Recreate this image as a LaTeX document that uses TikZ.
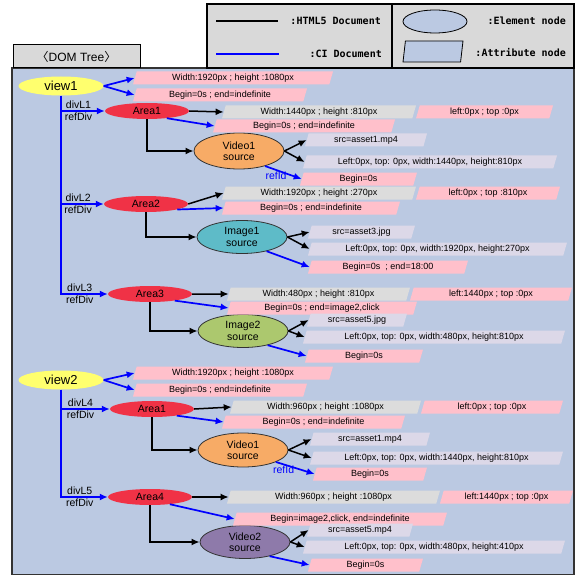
\documentclass[tikz,border=0pt]{standalone}
\usepackage{fontspec}
\setmainfont{Liberation Sans}
\newfontfamily\legendfont{DejaVu Sans Mono}
\newfontfamily\cjkfont{Noto Sans CJK KR}
\usepackage{tikz}
\usetikzlibrary{positioning,shapes.geometric,arrows.meta}

\definecolor{panelblue}{RGB}{187,201,226}
\definecolor{legendgray}{RGB}{217,217,217}
\definecolor{attrpink}{RGB}{255,192,203}
\definecolor{attrgray}{RGB}{220,220,220}
\definecolor{attrlilac}{RGB}{220,216,232}
\definecolor{viewyellow}{RGB}{255,255,110}
\definecolor{areared}{RGB}{240,50,70}
\definecolor{videoorange}{RGB}{247,171,102}
\definecolor{imageteal}{RGB}{94,187,200}
\definecolor{imagegreen}{RGB}{172,200,110}
\definecolor{videopurple}{RGB}{142,122,170}

\begin{document}
\begin{tikzpicture}[x=1pt, y=-1pt,
			view/.style={ellipse, fill=viewyellow, minimum width=85, minimum height=19, inner sep=0pt, font=\fontsize{13}{13}\selectfont},
			area/.style={ellipse, fill=areared, minimum width=84, minimum height=16, inner sep=0pt, font=\fontsize{10.5}{11}\selectfont},
			source/.style={ellipse, draw=black!80, thick, minimum width=90, minimum height=33, inner sep=0pt, align=center, font=\fontsize{10.5}{11.5}\selectfont},
			attr/.style={trapezium, trapezium left angle=66, trapezium right angle=114, trapezium stretches body, inner xsep=2pt, inner ysep=0pt, minimum height=13, font=\fontsize{9}{9}\selectfont},
			pinkattr/.style={attr, fill=attrpink},
			grayattr/.style={attr, fill=attrgray},
			lilacattr/.style={attr, fill=attrlilac},
			html/.style={-{Latex[length=8pt,width=7pt]}, line width=1.5pt, black},
			ci/.style={-{Latex[length=8pt,width=7pt]}, line width=1.7pt, blue},
			div/.style={font=\fontsize{10.5}{11}\selectfont, inner sep=1.5pt, text=black},
			refid/.style={font=\fontsize{10.5}{11}\selectfont, inner sep=1pt, text=blue},
			legend/.style={font=\legendfont\bfseries\fontsize{10}{10}\selectfont, inner sep=0pt},
		]
		\useasboundingbox (0,0) rectangle (581,575);

		\draw[fill=panelblue, draw=black!80, line width=1.2pt] (12,68) rectangle (574,575);
		\draw[fill=legendgray, line width=1.6pt] (207,4) rectangle (392,68);
		\draw[fill=legendgray, line width=1.6pt] (392,4) rectangle (574,68);
		\node[draw, fill=legendgray, line width=1pt, minimum width=127, minimum height=23, font=\fontsize{12}{12}\selectfont] (domtab) at (76.5,56.5) {{\cjkfont 〈}DOM Tree{\cjkfont 〉}};

		\draw[line width=2.5pt] (216,21) -- (278,21);
		\draw[blue, line width=2.5pt] (216,54) -- (279,54);
		\node[legend, anchor=east] (leghtml) at (381,21) {:HTML5 Document};
		\node[legend, anchor=east] (legci) at (382,54) {:CI Document};
		\node[ellipse, draw, thick, fill=panelblue, minimum width=64, minimum height=23] (legelem) at (435,21.5) {};
		\node[trapezium, trapezium left angle=70, trapezium right angle=110, trapezium stretches body, draw, thick, fill=panelblue, minimum width=60, minimum height=21] (legattr) at (433,51.5) {};
		\node[legend, anchor=east] (legelemtext) at (566,21) {:Element node};
		\node[legend, anchor=east] (legattrtext) at (566,53) {:Attribute node};

		\node[view] (view1) at (61,86) {view1};
		\node[area] (area1) at (147,111) {Area1};
		\node[area] (area2) at (146,204) {Area2};
		\node[area] (area3) at (150,294) {Area3};
		\node[source, fill=videoorange, minimum height=36] (video1) at (239,151) {Video1\\source};
		\node[source, fill=imageteal] (image1) at (242,237) {Image1\\source};
		\node[source, fill=imagegreen] (image2) at (243,331) {Image2\\source};

		\node[view] (view2) at (61,380) {view2};
		\node[area] (area1b) at (152,409) {Area1};
		\node[area] (area4) at (150,497) {Area4};
		\node[source, fill=videoorange, minimum height=34] (video1b) at (243,450) {Video1\\source};
		\node[source, fill=videopurple] (video2) at (245,542) {Video2\\source};

		\node[pinkattr, minimum width=200] (v1w) at (233,78) {Width:1920px ; height :1080px};
		\node[pinkattr, minimum width=174] (v1b) at (220,95) {Begin=0s ; end=indefinite};
		\node[grayattr, minimum width=194] (a1w) at (319,112) {Width:1440px ; height :810px};
		\node[pinkattr, minimum width=137] (a1l) at (484.5,112) {left:0px ; top :0px};
		\node[pinkattr, minimum width=182] (a1b) at (304,126) {Begin=0s ; end=indefinite};
		\node[lilacattr, minimum width=122] (v1s) at (366,140) {src=asset1.mp4};
		\node[lilacattr, minimum width=254] (v1l) at (430,162) {Left:0px, top: 0px, width:1440px, height:810px};
		\node[pinkattr, minimum width=117] (v1r) at (358.5,179) {Begin=0s};

		\node[grayattr, minimum width=194] (a2w) at (319,193) {Width:1920px ; height :270px};
		\node[pinkattr, minimum width=144] (a2l) at (488,193) {left:0px ; top :810px};
		\node[pinkattr, minimum width=178] (a2b) at (311,208) {Begin=0s ; end=indefinite};
		\node[lilacattr, minimum width=107] (i1s) at (361.5,232) {src=asset3.jpg};
		\node[lilacattr, minimum width=259] (i1l) at (437.5,249) {Left:0px, top: 0px, width:1920px, height:270px};
		\node[pinkattr, minimum width=160] (i1r) at (388,267) {Begin=0s~ ; end=18:00};

		\node[grayattr, minimum width=183] (a3w) at (318.5,294) {Width:480px ; height :810px};
		\node[pinkattr, minimum width=162] (a3l) at (491,294) {left:1440px ; top :0px};
		\node[pinkattr, minimum width=190] (a3b) at (322,308) {Begin=0s ; end=image2,click};
		\node[lilacattr, minimum width=100] (i2s) at (357,320) {src=asset5.jpg};
		\node[lilacattr, minimum width=262] (i2l) at (434,337) {Left:0px, top: 0px, width:480px, height:810px};
		\node[pinkattr, minimum width=118] (i2r) at (364,356) {Begin=0s};

		\node[pinkattr, minimum width=200] (v2w) at (233,373) {Width:1920px ; height :1080px};
		\node[pinkattr, minimum width=174] (v2b) at (220,390) {Begin=0s ; end=indefinite};
		\node[grayattr, minimum width=191] (b1w) at (325.5,407) {Width:960px ; height :1080px};
		\node[pinkattr, minimum width=142] (b1l) at (492,407) {left:0px ; top :0px};
		\node[pinkattr, minimum width=183] (b1b) at (313.5,422) {Begin=0s ; end=indefinite};
		\node[lilacattr, minimum width=120] (v3s) at (370,439) {src=asset1.mp4};
		\node[lilacattr, minimum width=253] (v3l) at (436.5,458) {Left:0px, top: 0px, width:1440px, height:810px};
		\node[pinkattr, minimum width=114] (v3r) at (370,474) {Begin=0s};

		\node[grayattr, minimum width=213] (a4w) at (333.5,497) {Width:960px ; height :1080px};
		\node[pinkattr, minimum width=133] (a4l) at (506.5,497) {left:1440px ; top :0px};
		\node[pinkattr, minimum width=214] (a4b) at (340,519) {Begin=image2,click, end=indefinite};
		\node[lilacattr, minimum width=106] (v4s) at (360,530) {src=asset5.mp4};
		\node[lilacattr, minimum width=262] (v4l) at (434,547) {Left:0px, top: 0px, width:480px, height:410px};
		\node[pinkattr, minimum width=115] (v4r) at (365.5,565) {Begin=0s};

		\draw[ci] (view1.east) -- (v1w.west);
		\draw[ci] (view1.east) -- (v1b.west);
		\draw[ci] (view1.south |- area1.west) -- (area1.west) node[pos=0.4, above, div] {divL1} node[pos=0.4, below, div] {refDiv};
		\draw[ci] (view1.south |- area2.west) -- (area2.west) node[pos=0.4, above, div] {divL2} node[pos=0.4, below, div] {refDiv};
		\draw[ci] (view1.south) |- (area3.west) node[pos=0.7, above, div] {divL3} node[pos=0.7, below, div] {refDiv};

		\draw[html] (area1.east) -- (a1w.west);
		\draw[ci] (area1.-20) -- (a1b.west);
		\draw[html] (area1.south) |- (video1.west);
		\draw[html] (video1.east) -- (v1s.west);
		\draw[html] (video1.east) -- (v1l.west);
		\draw[ci] (video1.-30) -- (v1r.west) node[pos=0.3, below, refid] {refId};

		\draw[html] (area2.east) -- (a2w.west);
		\draw[ci] (area2.-10) -- (a2b.west);
		\draw[html] (area2.south) |- (image1.west);
		\draw[html] (image1.east) -- (i1s.west);
		\draw[html] (image1.east) -- (i1l.west);
		\draw[ci] (image1.-30) -- (i1r.west);

		\draw[html] (area3.east) -- (a3w.west);
		\draw[ci] (area3.-15) -- (a3b.west);
		\draw[html] (area3.south) |- (image2.west);
		\draw[html] (image2.east) -- (i2s.west);
		\draw[html] (image2.east) -- (i2l.west);
		\draw[ci] (image2.-30) -- (i2r.west);

		\draw[ci] (view2.east) -- (v2w.west);
		\draw[ci] (view2.east) -- (v2b.west);
		\draw[ci] (view2.south |- area1b.west) -- (area1b.west) node[pos=0.4, above, div] {divL4} node[pos=0.4, below, div] {refDiv};
		\draw[ci] (view2.south) |- (area4.west) node[pos=0.7, above, div] {divL5} node[pos=0.7, below, div] {refDiv};

		\draw[html] (area1b.east) -- (b1w.west);
		\draw[ci] (area1b.-15) -- (b1b.west);
		\draw[html] (area1b.south) |- (video1b.west);
		\draw[html] (video1b.east) -- (v3s.west);
		\draw[html] (video1b.east) -- (v3l.west);
		\draw[ci] (video1b.-20) -- (v3r.west) node[pos=0.2, below, refid] {refId};

		\draw[html] (area4.east) -- (a4w.west);
		\draw[ci] (area4.-20) -- (a4b.west);
		\draw[html] (area4.south) |- (video2.west);
		\draw[html] (video2.east) -- (v4s.west);
		\draw[html] (video2.east) -- (v4l.west);
		\draw[ci] (video2.-30) -- (v4r.west);

		\end{tikzpicture}
\end{document}
